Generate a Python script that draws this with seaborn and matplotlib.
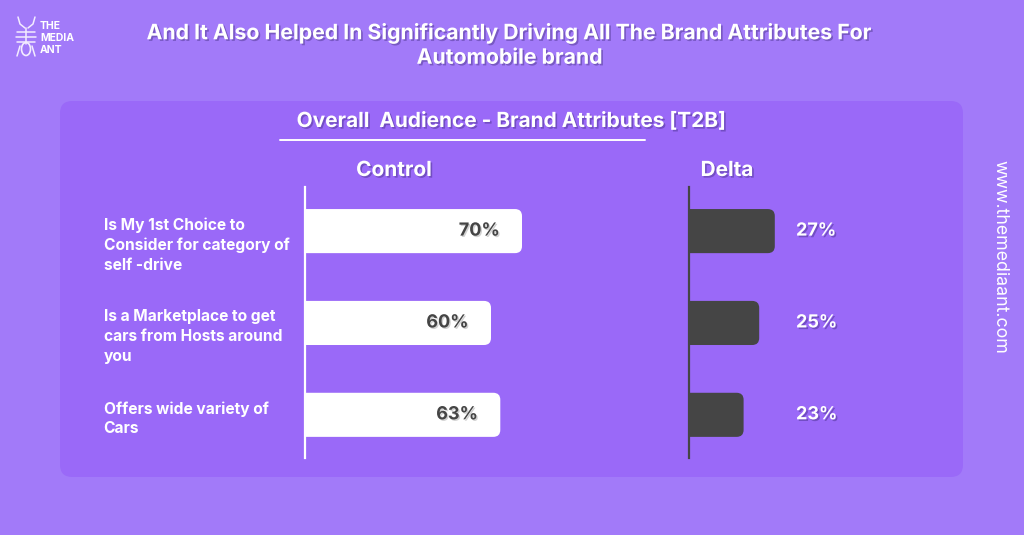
import matplotlib
matplotlib.use('Agg')
import matplotlib.pyplot as plt
import matplotlib.patheffects as pe
import matplotlib.transforms as mtransforms
from matplotlib.patches import FancyBboxPatch, Ellipse
from matplotlib.lines import Line2D
import seaborn as sns
import pandas as pd

# data
attributes = ['Is My 1st Choice to\nConsider for category of\nself -drive',
              'Is a Marketplace to get\ncars from Hosts around\nyou',
              'Offers wide variety of\nCars']
control = [70, 60, 63]
delta = [27, 25, 23]
control_labels = ['70%', '60%', '63%']
delta_labels = ['27%', '25%', '23%']

title = 'And It Also Helped In Significantly Driving All The Brand Attributes For\nAutomobile brand'
subtitle = 'Overall  Audience - Brand Attributes [T2B]'
watermark = 'www.themediaant.com'

df = pd.DataFrame({'attribute': attributes, 'Control': control, 'Delta': delta})

sns.set_theme(style='white')
plt.rcParams['font.family'] = ['Inter', 'DejaVu Sans']

W, H = 1024, 535
bg = '#A27AF9'
panel_c = '#9A69F8'
dark = '#454545'

fig = plt.figure(figsize=(W / 100, H / 100), dpi=100)
fig.patch.set_facecolor(bg)


def fx(px):
    return px / W


def fy(py):
    return 1 - py / H


shadow = [pe.withSimplePatchShadow(offset=(1.2, -1.2), shadow_rgbFace='#2a1a60', alpha=0.35)]
soft_shadow = [pe.withSimplePatchShadow(offset=(1, -1), shadow_rgbFace='#000000', alpha=0.18)]

# inner panel (behind the axes)
fig.patches.append(FancyBboxPatch((fx(60), fy(477)), fx(963) - fx(60), fy(101) - fy(477),
                                  boxstyle='round,pad=0,rounding_size=0.012',
                                  mutation_aspect=W / H, transform=fig.transFigure,
                                  facecolor=panel_c, edgecolor='none', zorder=-1))

# titles
fig.text(fx(510), fy(45), title, ha='center', va='center', fontsize=15.3,
         fontweight='bold', color='white', linespacing=1.28, path_effects=shadow)
fig.text(fx(511), fy(121), subtitle, ha='center', va='center', fontsize=15,
         fontweight='bold', color='white', path_effects=shadow)
fig.add_artist(Line2D([fx(280), fx(645)], [fy(140), fy(140)], color='white', lw=1.4))
fig.text(fx(394), fy(170), 'Control', ha='center', va='center', fontsize=15,
         fontweight='bold', color='white', path_effects=shadow)
fig.text(fx(727), fy(170), 'Delta', ha='center', va='center', fontsize=15,
         fontweight='bold', color='white', path_effects=shadow)

# logo: simple ant outline + wordmark
logo = '#F3ECFF'
ant_lines = [
    [(18, 17), (20, 24), (25, 28)], [(35, 17), (33, 24), (28, 28)],
    [(17, 32), (35, 32)], [(16, 37), (36, 37)], [(17, 42), (35, 42)],
    [(26, 28), (26, 44)], [(20, 46), (17, 56)], [(32, 46), (35, 56)],
]
for pts in ant_lines:
    fig.add_artist(Line2D([fx(p[0]) for p in pts], [fy(p[1]) for p in pts],
                          color=logo, lw=1.1))
fig.add_artist(Ellipse((fx(26), fy(49)), fx(9), 13 / H, transform=fig.transFigure,
                       facecolor='none', edgecolor=logo, lw=1.2))
fig.text(fx(40), fy(38), 'THE\nMEDIA\nANT', ha='left', va='center', fontsize=7.5,
         fontweight='bold', color='white', linespacing=1.3)
fig.text(fx(1000), fy(257), watermark, ha='center', va='center', rotation=-90,
         fontsize=12.8, color='white')


def round_bars(ax, r_px, color):
    bb = ax.get_window_extent()
    x0, x1 = ax.get_xlim()
    y0, y1 = ax.get_ylim()
    ux = abs(x1 - x0) / bb.width
    uy = abs(y1 - y0) / bb.height
    for p in list(ax.patches):
        x, y, w, h = p.get_x(), p.get_y(), p.get_width(), p.get_height()
        p.remove()
        ax.add_patch(FancyBboxPatch((x - r_px * ux, y), w + r_px * ux, h,
                                    boxstyle=f'round,pad=0,rounding_size={r_px * ux}',
                                    mutation_aspect=uy / ux, facecolor=color,
                                    edgecolor='none', zorder=2))


def style_axis(ax, spine_color):
    ax.patch.set_visible(False)
    for s in ['top', 'right', 'bottom']:
        ax.spines[s].set_visible(False)
    ax.spines['left'].set_color(spine_color)
    ax.spines['left'].set_linewidth(1.6)
    ax.spines['left'].set_zorder(3)
    ax.set_xticks([])
    ax.set_yticks([])
    ax.set_xlabel('')
    ax.set_ylabel('')


# control panel
ax1 = fig.add_axes([fx(305), fy(458), fx(615) - fx(305), fy(187) - fy(458)])
sns.barplot(data=df, x='Control', y='attribute', orient='h', color='white',
            saturation=1, width=0.48, ax=ax1)
ax1.set_xlim(0, 100)
ax1.set_ylim(2.47, -0.48)
style_axis(ax1, 'white')
round_bars(ax1, 7, 'white')
for i, lab in enumerate(control_labels):
    ax1.annotate(lab, (control[i], i), xytext=(-16, 0), textcoords='offset points',
                 ha='right', va='center', fontsize=13, fontweight='bold', color=dark,
                 path_effects=soft_shadow, zorder=3)
for i, lab in enumerate(attributes):
    ax1.annotate(lab, (0, i - 0.24), xytext=(-145, -6), textcoords='offset points',
                 ha='left', va='top', fontsize=11.2, fontweight='bold', color='white',
                 linespacing=1.4, annotation_clip=False)

# delta panel
ax2 = fig.add_axes([fx(689), fy(458), fx(889) - fx(689), fy(187) - fy(458)])
sns.barplot(data=df, x='Delta', y='attribute', orient='h', color=dark,
            saturation=1, width=0.48, ax=ax2)
ax2.set_xlim(16, 16 + 200 / 7.8)
ax2.set_ylim(2.47, -0.48)
style_axis(ax2, dark)
round_bars(ax2, 7, dark)
tr = mtransforms.blended_transform_factory(ax2.transAxes, ax2.transData)
for i, lab in enumerate(delta_labels):
    ax2.text(0.535, i, lab, transform=tr, ha='left', va='center', fontsize=13,
             fontweight='bold', color='white', path_effects=shadow)

fig.savefig('out.png', dpi=100, facecolor=bg)
